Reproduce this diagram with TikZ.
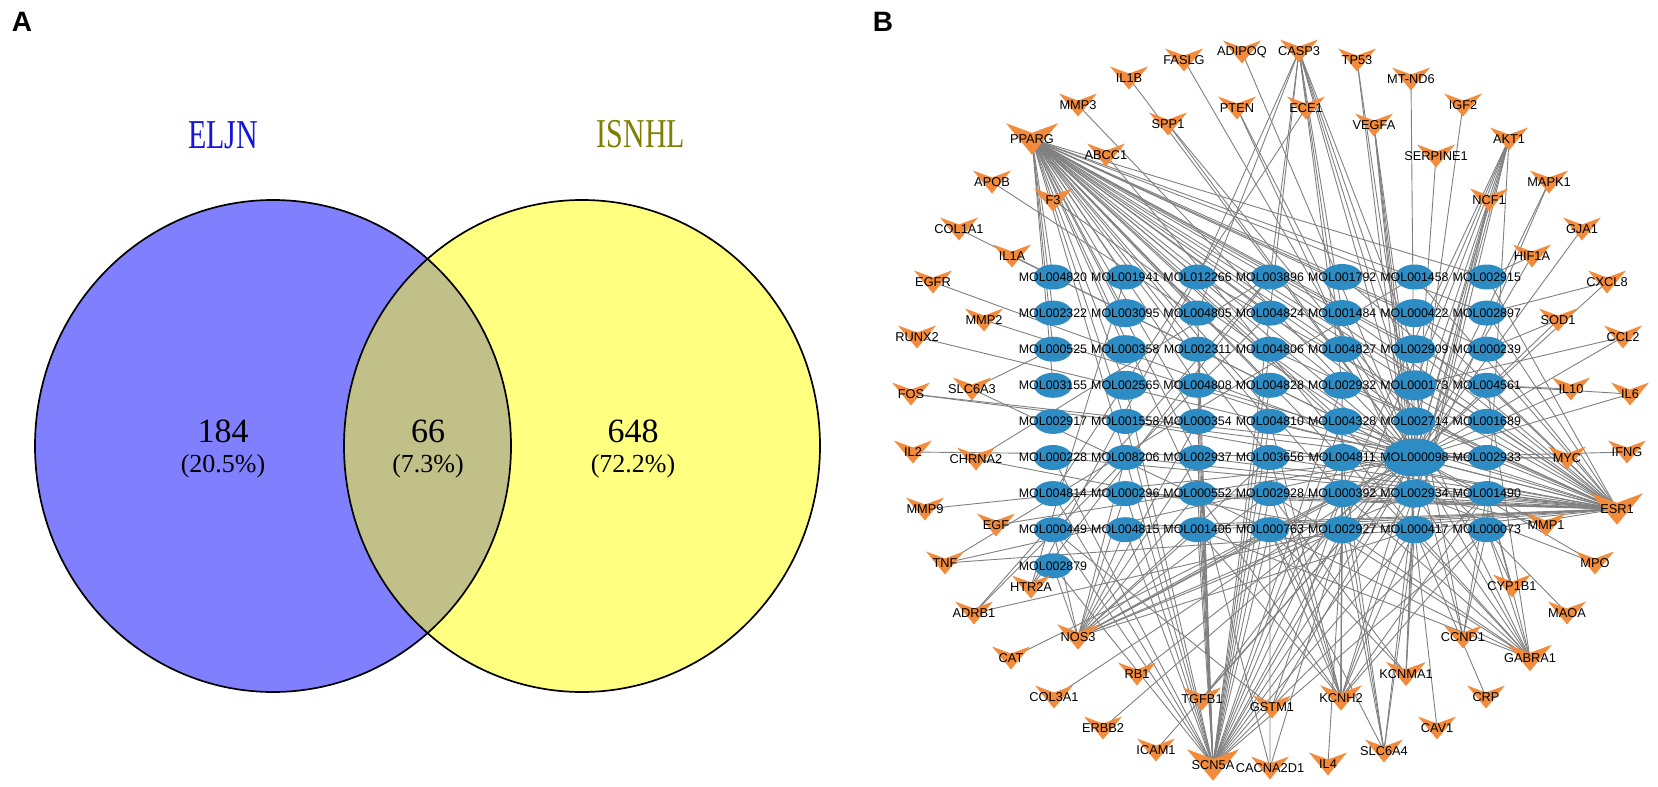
\documentclass[tikz,border=0pt]{standalone}
\usepackage{fontspec}
\setmainfont{Liberation Serif}
\newfontfamily\arialf{Liberation Sans}
\usetikzlibrary{shapes.geometric}
\pgfdeclarelayer{bglayer}
\pgfdeclarelayer{edgelayer}
\pgfsetlayers{bglayer,edgelayer,main}
\definecolor{venblue}{RGB}{128,128,255}
\definecolor{venyel}{RGB}{255,255,128}
\definecolor{venmix}{RGB}{192,192,136}
\definecolor{labblue}{RGB}{20,20,220}
\definecolor{labolive}{RGB}{128,128,0}
\definecolor{molblue}{RGB}{45,140,195}
\definecolor{geneor}{RGB}{242,140,60}
\definecolor{edgegray}{RGB}{128,128,128}
\begin{document}
\begin{tikzpicture}[x=1pt,y=-1pt,
  molshape/.style={ellipse, fill=molblue, inner sep=0pt, draw=none},
  mollab/.style={font=\arialf\fontsize{12.4}{14}\selectfont, inner sep=0pt, text=black},
  genelab/.style={font=\arialf\fontsize{12.8}{14}\selectfont, inner sep=0pt, text=black},
  edge/.style={draw=edgegray, line width=0.9pt},
  panel/.style={font=\arialf\bfseries\fontsize{28}{30}\selectfont, inner sep=0pt},
  venlab/.style={font=\fontsize{41}{44}\selectfont, xscale=0.73, inner sep=0pt},
  vennum/.style={font=\fontsize{34}{36}\selectfont, inner sep=0pt},
  venpct/.style={font=\fontsize{26}{28}\selectfont, inner sep=0pt},
  vline/.style={draw=black, line width=1.7pt}
]
\useasboundingbox (0,0) rectangle (1658,787);
\begin{pgfonlayer}{bglayer}
\fill[white] (0,0) rectangle (1658,787);
\end{pgfonlayer}

% ---------------- Panel A : Venn ----------------
\node[panel] (labA) at (22,22) {A};
\fill[venblue] (273,446) ellipse [x radius=238pt, y radius=246pt];
\fill[venyel] (582,446) ellipse [x radius=238pt, y radius=246pt];
\begin{scope}
  \clip (273,446) ellipse [x radius=238pt, y radius=246pt];
  \fill[venmix] (582,446) ellipse [x radius=238pt, y radius=246pt];
\end{scope}
\draw[vline] (273,446) ellipse [x radius=238pt, y radius=246pt];
\draw[vline] (582,446) ellipse [x radius=238pt, y radius=246pt];
\node[venlab, text=labblue] (ELJN) at (223,135) {ELJN};
\node[venlab, text=labolive] (ISNHL) at (641,134) {ISNHL};
\node[vennum] (n184) at (223,431) {184};
\node[venpct] (p184) at (223,466) {(20.5\%)};
\node[vennum] (n66) at (428,431) {66};
\node[venpct] (p66) at (428,466) {(7.3\%)};
\node[vennum] (n648) at (633,431) {648};
\node[venpct] (p648) at (633,466) {(72.2\%)};

% ---------------- Panel B : network ----------------
\node[panel] (labB) at (883,22) {B};

\foreach \rr/\cc/\lab/\ww/\hh in {
 1/1/MOL004820/38/25, 1/2/MOL001941/38/25, 1/3/MOL012266/38/25, 1/4/MOL003896/38/25, 1/5/MOL001792/40/26, 1/6/MOL001458/38/25, 1/7/MOL002915/38/25,
 2/1/MOL002322/38/25, 2/2/MOL003095/42/28, 2/3/MOL004805/38/25, 2/4/MOL004824/38/25, 2/5/MOL001484/40/26, 2/6/MOL000422/42/28, 2/7/MOL002897/38/25,
 3/1/MOL000525/38/25, 3/2/MOL000358/42/28, 3/3/MOL002311/38/25, 3/4/MOL004806/38/25, 3/5/MOL004827/40/26, 3/6/MOL002909/42/28, 3/7/MOL000239/38/25,
 4/1/MOL003155/38/25, 4/2/MOL002565/44/29, 4/3/MOL004808/38/25, 4/4/MOL004828/38/25, 4/5/MOL002932/40/27, 4/6/MOL000173/44/30, 4/7/MOL004561/38/25,
 5/1/MOL002917/38/25, 5/2/MOL001558/38/25, 5/3/MOL000354/38/25, 5/4/MOL004810/38/25, 5/5/MOL004328/40/27, 5/6/MOL002714/42/28, 5/7/MOL001689/38/25,
 6/1/MOL000228/38/25, 6/2/MOL008206/38/25, 6/3/MOL002937/38/25, 6/4/MOL003656/38/25, 6/5/MOL004811/40/27, 6/6/MOL000098/63/38, 6/7/MOL002933/38/25,
 7/1/MOL004814/38/25, 7/2/MOL000296/38/25, 7/3/MOL000552/38/25, 7/4/MOL002928/38/25, 7/5/MOL000392/40/27, 7/6/MOL002934/42/28, 7/7/MOL001490/38/25,
 8/1/MOL000449/38/25, 8/2/MOL004815/38/25, 8/3/MOL001406/38/25, 8/4/MOL000763/38/25, 8/5/MOL002927/40/27, 8/6/MOL000417/40/27, 8/7/MOL000073/38/25,
 9/1/MOL002879/38/25} {
  \node[molshape, minimum width=\ww pt, minimum height=\hh pt] (m\rr\cc) at ({1053+72.3*(\cc-1)},{277+36.1*(\rr-1)}) {};
  \node[mollab] (l\rr\cc) at (m\rr\cc.center) {\lab};
}

\foreach \nm/\x/\y/\lab/\sc in {
 FASLG/1184/60/FASLG/1, ADIPOQ/1242/52/ADIPOQ/1, CASP3/1299/51/CASP3/1, TP53/1357/60/TP53/1,
 MTND6/1411/79/MT-ND6/1, IGF2/1463/105/IGF2/1, ECE1/1306/108/ECE1/1, VEGFA/1374/125/VEGFA/1,
 SERPINE1/1436/156/SERPINE1/1, AKT1/1509/139/AKT1/1, MAPK1/1549/182/MAPK1/1, NCF1/1489/200/NCF1/1,
 GJA1/1582/229/GJA1/1, HIF1A/1532/256/HIF1A/1, IL1B/1129/78/IL1B/1, MMP3/1078/105/MMP3/1,
 PTEN/1237/108/PTEN/1, SPP1/1168/124/SPP1/1, PPARG/1032/139/PPARG/1.37, ABCC1/1106/155/ABCC1/1,
 APOB/992/182/APOB/1, F3/1053/200/F3/1, COL1A1/959/229/COL1A1/1, IL1A/1012/256/IL1A/1,
 EGFR/933/282/EGFR/1, MMP2/984/320/MMP2/1, RUNX2/917/337/RUNX2/1, SLC6A3/972/389/SLC6A3/1,
 FOS/911/394/FOS/1, IL2/913/452/IL2/1, CHRNA2/976/459/CHRNA2/1, MMP9/925/509/MMP9/1,
 EGF/996/525/EGF/1, TNF/945/563/TNF/1, HTR2A/1031/587/HTR2A/1, ADRB1/974/613/ADRB1/1,
 NOS3/1078/637/NOS3/1.1, CAT/1011/658/CAT/1, RB1/1137/674/RB1/1, COL3A1/1054/697/COL3A1/1,
 TGFB1/1202/699/TGFB1/1, ERBB2/1103/728/ERBB2/1, ICAM1/1156/750/ICAM1/1, SCN5A/1213/765/SCN5A/1.37,
 CACNA2D1/1270/768/CACNA2D1/1, GSTM1/1272/707/GSTM1/1, KCNH2/1341/698/KCNH2/1.1, IL4/1328/764/IL4/1,
 SLC6A4/1384/751/SLC6A4/1, KCNMA1/1406/674/KCNMA1/1.05, CAV1/1437/728/CAV1/1, CRP/1486/697/CRP/1,
 CCND1/1463/637/CCND1/1, GABRA1/1530/658/GABRA1/1.15, MAOA/1567/613/MAOA/1, CYP1B1/1512/586/CYP1B1/1,
 MPO/1595/563/MPO/1, MMP1/1546/525/MMP1/1, ESR1/1617/509/ESR1/1.37, MYC/1567/458/MYC/1,
 IFNG/1627/452/IFNG/1, IL6/1630/394/IL6/1, IL10/1571/389/IL10/1, CCL2/1623/337/CCL2/1,
 SOD1/1558/320/SOD1/1, CXCL8/1607/282/CXCL8/1} {
  \fill[geneor] ({\x-19*\sc},{\y-11.5*\sc}) -- (\x,{\y-4.5*\sc}) -- ({\x+19*\sc},{\y-11.5*\sc}) -- (\x,{\y+11.5*\sc}) -- cycle;
  \node[genelab] (g\nm) at (\x,\y) {\lab};
}

\begin{pgfonlayer}{edgelayer}
\foreach \g/\l in {
 PPARG/{11,21,31,41,12,22,32,42,52,62,13,23,33,43,53,63,73,14,24,34,44,54,64,15,25,35,45,55,65,75,16,26,36,46,56,66,76,17,27,37,47,57,67},
 ESR1/{17,27,37,47,57,67,77,87,16,26,36,46,56,66,76,86,15,25,45,55,65,75,85,14,34,54,64,74,84,13,43,63,73,83,52,62,72,82,61,71,81},
 SCN5A/{81,91,71,61,82,72,62,52,42,83,73,63,53,43,33,23,84,74,64,54,44,34,24,85,75,65,55,45,86,76,66,56,87,77},
 NOS3/{81,82,72,62,83,73,63,53,84,74,64,85,75,86,76,66,91},
 KCNH2/{83,84,85,75,65,55,86,76,66,87,77,74,64,54,45,73},
 GABRA1/{86,87,77,76,66,85,75,65,84,74,56,47,83},
 CASP3/{14,24,25,35,45,36,56,66,13,23,46},
 AKT1/{86,76,66,56,46,87,85,75},
 SLC6A4/{86,85,75,84,65,76},
 KCNMA1/{86,76,84,66,74},
 CCND1/{66,87,46,77}, TGFB1/{66,56}, GSTM1/{66,81,75}, CACNA2D1/{85,84,73},
 IL4/{85}, CAV1/{86}, CRP/{86}, CYP1B1/{87,77}, MAOA/{66}, MPO/{66,76}, MMP1/{66,76},
 MYC/{66,67}, IFNG/{66}, IL6/{47,66}, IL10/{47,66}, CCL2/{66,46}, SOD1/{37,66},
 CXCL8/{66,27}, HIF1A/{66,17}, GJA1/{66}, MAPK1/{66,76}, NCF1/{66,76,86}, SERPINE1/{66},
 IGF2/{66}, MTND6/{66}, VEGFA/{66,76,56,86}, TP53/{66,86}, ECE1/{71}, ADIPOQ/{66},
 PTEN/{66,76}, SPP1/{66,56}, FASLG/{66}, IL1B/{66}, MMP3/{66}, ABCC1/{86}, APOB/{66},
 F3/{66}, COL1A1/{66}, IL1A/{66}, EGFR/{66}, MMP2/{66}, RUNX2/{66}, SLC6A3/{84,31},
 FOS/{66,67}, IL2/{66}, CHRNA2/{14,85}, MMP9/{66}, EGF/{66}, TNF/{66,86,16},
 HTR2A/{12,13,14}, ADRB1/{14,24,85}, CAT/{66}, RB1/{66}, COL3A1/{66}, ERBB2/{66}, ICAM1/{66}} {
  \foreach \m in \l {
    \draw[edge] (g\g.center) -- (m\m.center);
  }
}
\end{pgfonlayer}
\end{tikzpicture}
\end{document}
